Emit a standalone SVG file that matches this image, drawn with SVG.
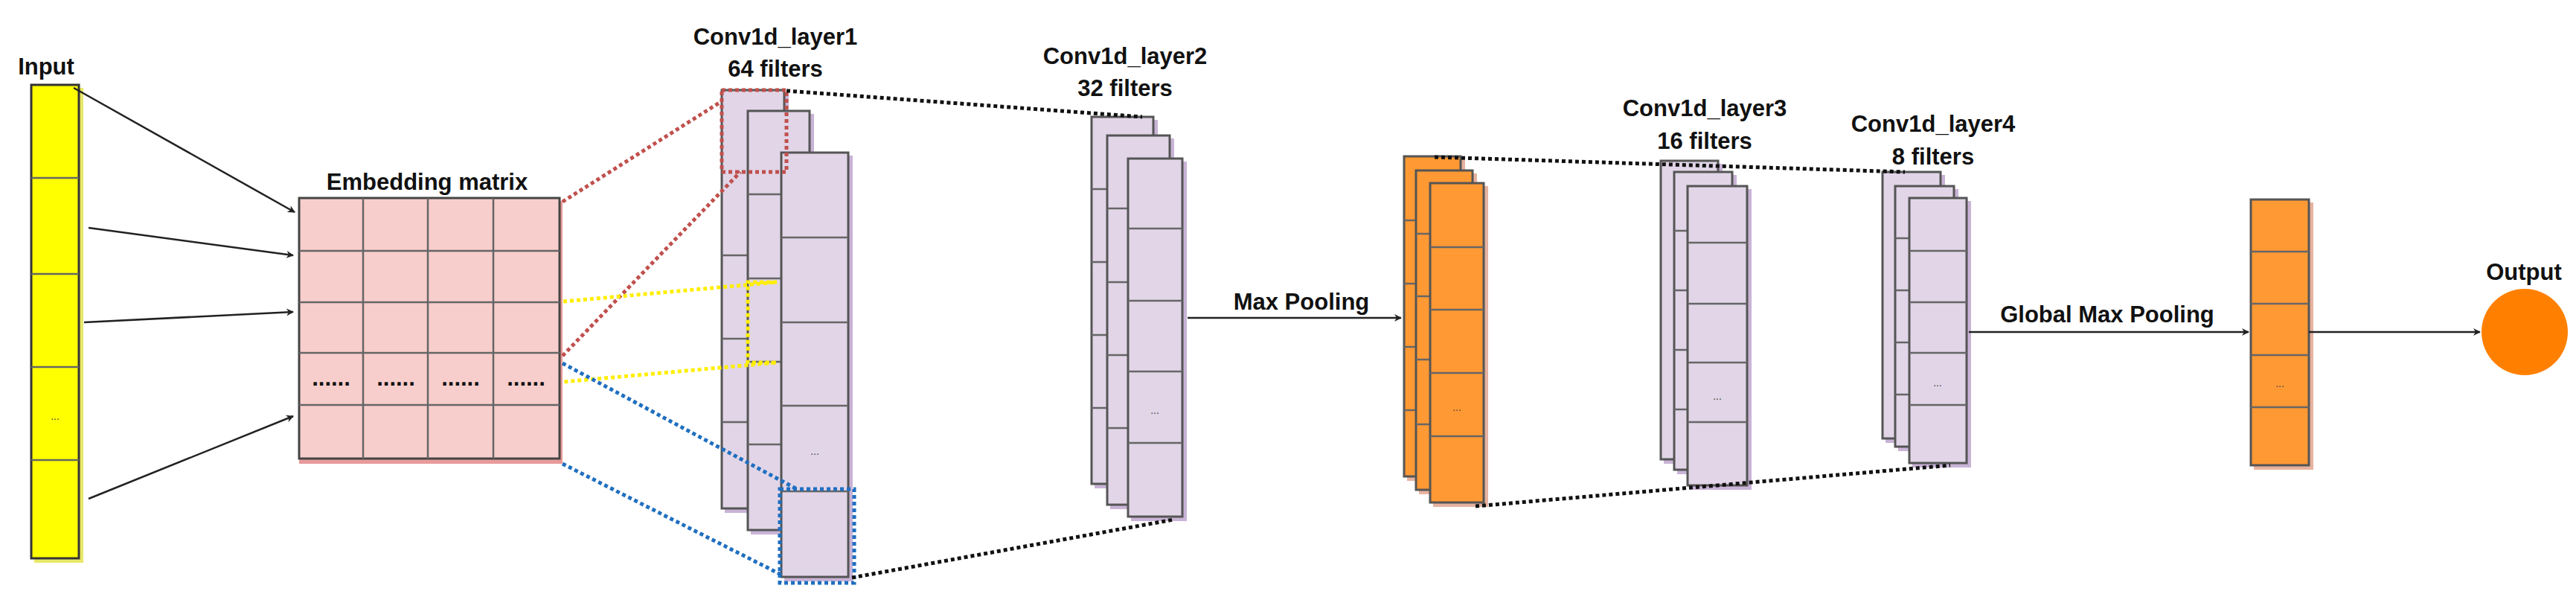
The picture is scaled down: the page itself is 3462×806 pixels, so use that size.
<svg xmlns="http://www.w3.org/2000/svg" width="3462" height="806" viewBox="0 0 3462 806">
<style>
text{font-family:"Liberation Sans",Arial,sans-serif;font-weight:bold;font-size:31px;fill:#111;text-anchor:middle}
.dots{font-size:14px;font-weight:normal;fill:#444}
.yel{fill:#ffff00;stroke:#333;stroke-width:3}
.pink{fill:#f8cecc;stroke:#444;stroke-width:3}
.lav{fill:#e1d5e7;stroke:#555;stroke-width:3}
.org{fill:#ff9933;stroke:#555;stroke-width:3}
.sl{fill:#c9b3d6}
.so{fill:#e6b3a0}
.sy{fill:#e8e86a}
.sp{fill:#e89a9a}
.div{stroke:#666;stroke-width:2.5}
.arr{stroke:#222;stroke-width:2.5;fill:none;marker-end:url(#ah)}
.dk{stroke:#111;stroke-width:5;stroke-dasharray:5 4;fill:none}
.rd{stroke:#c0504d;stroke-width:5;stroke-dasharray:5 4;fill:none}
.yl{stroke:#ffee00;stroke-width:5;stroke-dasharray:5 4;fill:none}
.bl{stroke:#1f6fc0;stroke-width:5;stroke-dasharray:5 4;fill:none}
</style>
<defs>
<marker id="ah" markerWidth="10" markerHeight="10" refX="9" refY="5" orient="auto" markerUnits="userSpaceOnUse"><path d="M0,0 L10,5 L0,10 L3,5 z" fill="#222"/></marker>
</defs>
<rect width="3462" height="806" fill="#fff"/>

<g id="input">
<text x="62" y="100">Input</text>
<rect class="sy" x="46" y="118" width="66" height="638"/>
<rect class="yel" x="42" y="114" width="64" height="636"/>
<line class="div" x1="42" y1="239" x2="106" y2="239"/><line class="div" x1="42" y1="368" x2="106" y2="368"/>
<line class="div" x1="42" y1="493" x2="106" y2="493"/><line class="div" x1="42" y1="618" x2="106" y2="618"/>
<text class="dots" x="74" y="564">...</text>
</g>

<g id="embedding">
<text x="574" y="255">Embedding matrix</text>
<rect class="sp" x="402" y="270" width="354" height="353"/>
<rect class="pink" x="402" y="266" width="350" height="350"/>
<g class="div">
<line x1="488" y1="266" x2="488" y2="616"/><line x1="575" y1="266" x2="575" y2="616"/><line x1="663" y1="266" x2="663" y2="616"/>
<line x1="402" y1="337" x2="752" y2="337"/><line x1="402" y1="406" x2="752" y2="406"/><line x1="402" y1="474" x2="752" y2="474"/><line x1="402" y1="544" x2="752" y2="544"/>
</g>
<g class="dots" font-size="16"><text x="445" y="518">......</text><text x="532" y="518">......</text><text x="619" y="518">......</text><text x="707" y="518">......</text></g>
</g>

<g id="conv1">
<text x="1042" y="60">Conv1d_layer1</text>
<text x="1042" y="103">64 filters</text>
<rect class="sl" x="974" y="125" width="86" height="564"/>
<rect class="lav" x="970" y="121" width="84" height="562"/>
<line class="div" x1="970" y1="343" x2="1005" y2="343"/><line class="div" x1="970" y1="455" x2="1005" y2="455"/><line class="div" x1="970" y1="567" x2="1005" y2="567"/>
<rect class="sl" x="1009" y="153" width="85" height="565"/>
<rect class="lav" x="1005" y="149" width="83" height="563"/>
<line class="div" x1="1005" y1="261" x2="1050" y2="261"/><line class="div" x1="1005" y1="374" x2="1050" y2="374"/><line class="div" x1="1005" y1="486" x2="1050" y2="486"/><line class="div" x1="1005" y1="597" x2="1050" y2="597"/>
<rect class="sl" x="1054" y="209" width="92" height="572"/>
<rect class="lav" x="1050" y="205" width="90" height="570"/>
<line class="div" x1="1050" y1="319" x2="1140" y2="319"/><line class="div" x1="1050" y1="433" x2="1140" y2="433"/><line class="div" x1="1050" y1="545" x2="1140" y2="545"/><line class="div" x1="1050" y1="660" x2="1140" y2="660"/>
<text class="dots" x="1095" y="611">...</text>
</g>

<g id="conv2">
<text x="1512" y="86">Conv1d_layer2</text>
<text x="1512" y="129">32 filters</text>
<rect class="sl" x="1471" y="161" width="85" height="495"/>
<rect class="lav" x="1467" y="157" width="83" height="493"/>
<line class="div" x1="1467" y1="254" x2="1488" y2="254"/><line class="div" x1="1467" y1="352" x2="1488" y2="352"/><line class="div" x1="1467" y1="450" x2="1488" y2="450"/><line class="div" x1="1467" y1="548" x2="1488" y2="548"/>
<rect class="sl" x="1492" y="186" width="86" height="498"/>
<rect class="lav" x="1488" y="182" width="84" height="496"/>
<line class="div" x1="1488" y1="280" x2="1516" y2="280"/><line class="div" x1="1488" y1="379" x2="1516" y2="379"/><line class="div" x1="1488" y1="477" x2="1516" y2="477"/><line class="div" x1="1488" y1="575" x2="1516" y2="575"/>
<rect class="sl" x="1520" y="217" width="75" height="483"/>
<rect class="lav" x="1516" y="213" width="73" height="481"/>
<line class="div" x1="1516" y1="307" x2="1589" y2="307"/><line class="div" x1="1516" y1="404" x2="1589" y2="404"/><line class="div" x1="1516" y1="499" x2="1589" y2="499"/><line class="div" x1="1516" y1="595" x2="1589" y2="595"/>
<text class="dots" x="1552" y="556">...</text>
</g>

<g id="maxpool">
<rect class="so" x="1891" y="214" width="78" height="432"/>
<rect class="org" x="1887" y="210" width="76" height="430"/>
<line class="div" x1="1887" y1="296" x2="1903" y2="296"/><line class="div" x1="1887" y1="381" x2="1903" y2="381"/><line class="div" x1="1887" y1="466" x2="1903" y2="466"/><line class="div" x1="1887" y1="551" x2="1903" y2="551"/>
<rect class="so" x="1907" y="233" width="78" height="431"/>
<rect class="org" x="1903" y="229" width="76" height="429"/>
<line class="div" x1="1903" y1="314" x2="1922" y2="314"/><line class="div" x1="1903" y1="398" x2="1922" y2="398"/><line class="div" x1="1903" y1="483" x2="1922" y2="483"/><line class="div" x1="1903" y1="570" x2="1922" y2="570"/>
<rect class="so" x="1926" y="250" width="74" height="431"/>
<rect class="org" x="1922" y="246" width="72" height="429"/>
<line class="div" x1="1922" y1="332" x2="1994" y2="332"/><line class="div" x1="1922" y1="416" x2="1994" y2="416"/><line class="div" x1="1922" y1="501" x2="1994" y2="501"/><line class="div" x1="1922" y1="586" x2="1994" y2="586"/>
<text class="dots" x="1958" y="552">...</text>
</g>

<g id="conv3">
<text x="2291" y="156">Conv1d_layer3</text>
<text x="2291" y="200">16 filters</text>
<rect class="sl" x="2236" y="220" width="79" height="403"/>
<rect class="lav" x="2232" y="216" width="77" height="401"/>
<rect class="sl" x="2254" y="235" width="80" height="402"/>
<rect class="lav" x="2250" y="231" width="78" height="400"/>
<line class="div" x1="2250" y1="310" x2="2268" y2="310"/><line class="div" x1="2250" y1="390" x2="2268" y2="390"/><line class="div" x1="2250" y1="470" x2="2268" y2="470"/><line class="div" x1="2250" y1="550" x2="2268" y2="550"/>
<rect class="sl" x="2272" y="254" width="82" height="404"/>
<rect class="lav" x="2268" y="250" width="80" height="402"/>
<line class="div" x1="2268" y1="326" x2="2348" y2="326"/><line class="div" x1="2268" y1="408" x2="2348" y2="408"/><line class="div" x1="2268" y1="487" x2="2348" y2="487"/><line class="div" x1="2268" y1="567" x2="2348" y2="567"/>
<text class="dots" x="2308" y="537">...</text>
</g>

<g id="conv4">
<text x="2598" y="177">Conv1d_layer4</text>
<text x="2598" y="221">8 filters</text>
<rect class="sl" x="2534" y="235" width="80" height="360"/>
<rect class="lav" x="2530" y="231" width="78" height="358"/>
<rect class="sl" x="2551" y="254" width="81" height="352"/>
<rect class="lav" x="2547" y="250" width="79" height="350"/>
<line class="div" x1="2547" y1="320" x2="2566" y2="320"/><line class="div" x1="2547" y1="390" x2="2566" y2="390"/><line class="div" x1="2547" y1="460" x2="2566" y2="460"/><line class="div" x1="2547" y1="530" x2="2566" y2="530"/>
<rect class="sl" x="2570" y="270" width="79" height="358"/>
<rect class="lav" x="2566" y="266" width="77" height="356"/>
<line class="div" x1="2566" y1="337" x2="2643" y2="337"/><line class="div" x1="2566" y1="406" x2="2643" y2="406"/><line class="div" x1="2566" y1="474" x2="2643" y2="474"/><line class="div" x1="2566" y1="544" x2="2643" y2="544"/>
<text class="dots" x="2604" y="519">...</text>
</g>

<g id="globalpool">
<rect class="so" x="3029" y="272" width="80" height="359"/>
<rect class="org" x="3025" y="268" width="78" height="357"/>
<line class="div" x1="3025" y1="338" x2="3103" y2="338"/><line class="div" x1="3025" y1="408" x2="3103" y2="408"/><line class="div" x1="3025" y1="477" x2="3103" y2="477"/><line class="div" x1="3025" y1="547" x2="3103" y2="547"/>
<text class="dots" x="3064" y="520">...</text>
</g>

<g id="output">
<text x="3392" y="376">Output</text>
<ellipse cx="3393" cy="446" rx="58" ry="58" fill="#ff8000"/>
</g>

<g id="connectors">
<line class="arr" x1="99" y1="118" x2="396" y2="285"/>
<line class="arr" x1="119" y1="306" x2="394" y2="343"/>
<line class="arr" x1="113" y1="433" x2="394" y2="419"/>
<line class="arr" x1="119" y1="670" x2="394" y2="559"/>
<rect class="rd" x="970" y="121" width="87" height="110"/>
<line class="rd" x1="756" y1="271" x2="970" y2="136"/>
<line class="rd" x1="756" y1="478" x2="995" y2="231"/>
<polyline class="yl" points="757,405 1044,379 1005,379 1005,487 1044,487 757,513"/>
<rect class="bl" x="1048" y="657" width="100" height="126"/>
<line class="bl" x1="756" y1="488" x2="1071" y2="657"/>
<line class="bl" x1="756" y1="623" x2="1050" y2="772"/>
<line class="dk" x1="1057" y1="122" x2="1535" y2="157"/>
<line class="dk" x1="1145" y1="776" x2="1577" y2="698"/>
<line class="dk" x1="1928" y1="211" x2="2560" y2="231"/>
<line class="dk" x1="1983" y1="680" x2="2621" y2="625"/>
<line class="arr" x1="1596" y1="427" x2="1883" y2="427"/>
<text x="1749" y="416">Max Pooling</text>
<line class="arr" x1="2646" y1="446" x2="3022" y2="446"/>
<text x="2832" y="433">Global Max Pooling</text>
<line class="arr" x1="3103" y1="446" x2="3333" y2="446"/>
</g>
</svg>
